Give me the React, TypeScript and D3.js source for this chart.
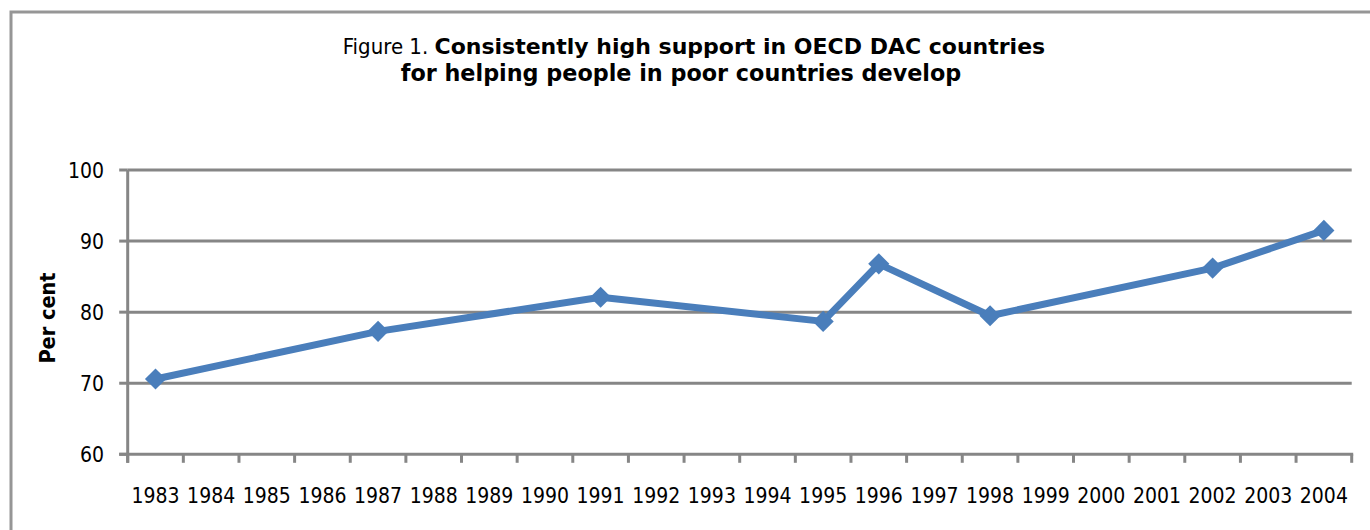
import React from "react";
import * as d3 from "d3";

const years = [
  "1983","1984","1985","1986","1987","1988","1989","1990","1991","1992","1993",
  "1994","1995","1996","1997","1998","1999","2000","2001","2002","2003","2004",
];
const surveyYears = ["1983", "1987", "1991", "1995", "1996", "1998", "2002", "2004"];
const support = [70.6, 77.3, 82.1, 78.7, 86.8, 79.5, 86.2, 91.5];
const yTicks = [60, 70, 80, 90, 100];

const W = 1370;
const H = 530;
const FONT = "'DejaVu Sans Condensed', 'DejaVu Sans', sans-serif";
const TFONT = "'DejaVu Sans', sans-serif";
const GRAY = "#868686";
const BLUE = "#4A7EBB";

export default function App() {
  const x = d3.scaleBand<string>().domain(years).range([127.7, 1351.7]).padding(0);
  const y = d3.scaleLinear().domain([60, 100]).range([454.3, 170]);
  const cx = (yr: string) => (x(yr) as number) + x.bandwidth() / 2;

  const pts: [number, number][] = surveyYears.map((yr, i) => [cx(yr), y(support[i])]);
  const line = d3.line<[number, number]>().x((d) => d[0]).y((d) => d[1]);
  const diamond = d3.symbol().type(d3.symbolDiamond2).size(285)();

  const [x0, x1] = x.range();
  const boundaries = d3.range(years.length + 1).map((i) => x0 + i * x.step());

  return (
    <svg
      width={W}
      height={H}
      style={{ position: "absolute", left: 0, top: 0, background: "#fff" }}
      fontFamily={FONT}
    >
      <rect x={0} y={0} width={W} height={H} fill="#fff" />
      {/* frame */}
      <path d={`M11,${H + 5} L11,12 L${W + 5},12`} fill="none" stroke="#969696" strokeWidth={3} />

      {/* title */}
      <text x={694} y={54} textAnchor="middle" fontSize={22} fill="#000">
        <tspan fontFamily={FONT}>Figure 1. </tspan>
        <tspan fontFamily={TFONT} fontWeight="bold">Consistently high support in OECD DAC countries</tspan>
      </text>
      <text x={681} y={81} textAnchor="middle" fontSize={22.3} fontFamily={TFONT} fontWeight="bold" fill="#000">
        for helping people in poor countries develop
      </text>

      {/* gridlines */}
      {yTicks.filter((t) => t > 60).map((t) => (
        <line key={t} x1={x0} x2={x1} y1={y(t)} y2={y(t)} stroke={GRAY} strokeWidth={3} />
      ))}
      {/* y axis */}
      <line x1={x0} x2={x0} y1={y(100)} y2={y(60) + 8.5} stroke={GRAY} strokeWidth={3} />
      {yTicks.map((t) => (
        <g key={t}>
          <line x1={x0 - 8.5} x2={x0} y1={y(t)} y2={y(t)} stroke={GRAY} strokeWidth={3} />
          <text x={104} y={y(t)} dy="0.37em" textAnchor="end" fontSize={21} fill="#000">
            {t}
          </text>
        </g>
      ))}
      {/* x axis */}
      <line x1={x0 - 8.5} x2={x1 + 1.5} y1={y(60)} y2={y(60)} stroke={GRAY} strokeWidth={3} />
      {boundaries.map((b, i) => (
        <line key={i} x1={b} x2={b} y1={y(60)} y2={y(60) + 8.5} stroke={GRAY} strokeWidth={3} />
      ))}
      {years.map((yr) => (
        <text key={yr} x={cx(yr)} y={502.5} textAnchor="middle" fontSize={21} fill="#000">
          {yr}
        </text>
      ))}

      {/* y title */}
      <text
        transform="translate(55,318) rotate(-90)"
        textAnchor="middle"
        fontSize={21.5}
        fontWeight="bold"
        fill="#000"
      >
        Per cent
      </text>

      {/* series */}
      <path d={line(pts) as string} fill="none" stroke={BLUE} strokeWidth={7} strokeLinejoin="round" />
      {pts.map((p, i) => (
        <path key={i} d={diamond as string} transform={`translate(${p[0]},${p[1]})`} fill={BLUE} />
      ))}
    </svg>
  );
}
